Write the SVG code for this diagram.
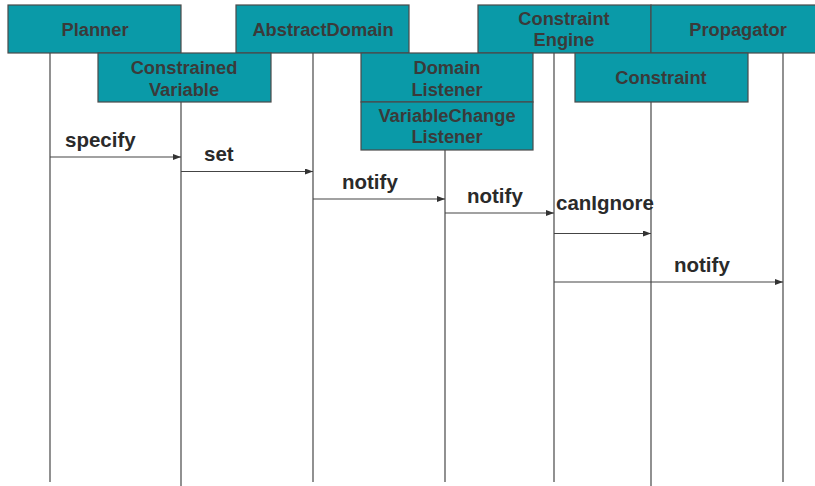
<svg xmlns="http://www.w3.org/2000/svg" width="815" height="486" viewBox="0 0 815 486">
<defs>
<style>
.box{fill:#0a9aa8;stroke:#4a4a4a;stroke-width:1.2}
.nl{font-family:"Liberation Sans",Arial,sans-serif;font-weight:bold;font-size:18.3px;fill:#3a3a3a;text-anchor:middle}
.ml{font-family:"Liberation Sans",Arial,sans-serif;font-weight:bold;font-size:20.5px;fill:#2a2a2a}
.life{stroke:#555;stroke-width:1.3;fill:none}
.msg{stroke:#444;stroke-width:1.1;fill:none;marker-end:url(#ah)}
</style>
<marker id="ah" viewBox="0 0 8 6" refX="8" refY="3" markerWidth="8" markerHeight="6" markerUnits="userSpaceOnUse" orient="auto">
<path d="M0,0 L8,3 L0,6 Z" fill="#333"/>
</marker>
</defs>
<rect width="815" height="486" fill="#fff"/>
<g id="lifelines">
<line class="life" x1="50" y1="53" x2="50" y2="482"/>
<line class="life" x1="181" y1="102" x2="181" y2="486"/>
<line class="life" x1="313" y1="53" x2="313" y2="482"/>
<line class="life" x1="445" y1="150" x2="445" y2="482"/>
<line class="life" x1="554" y1="53" x2="554" y2="482"/>
<line class="life" x1="651" y1="102" x2="651" y2="486"/>
<line class="life" x1="783" y1="53" x2="783" y2="482"/>
</g>
<g id="planner"><rect class="box" x="8" y="5" width="173" height="48"/><text class="nl" x="95" y="36">Planner</text></g>
<g id="abstractdomain"><rect class="box" x="236" y="5" width="173" height="48"/><text class="nl" x="323" y="36">AbstractDomain</text></g>
<g id="constraintengine"><rect class="box" x="478" y="5" width="173" height="48"/><text class="nl" x="564" y="25">Constraint</text><text class="nl" x="564" y="46">Engine</text></g>
<g id="propagator"><rect class="box" x="651" y="5" width="180" height="48"/><text class="nl" x="738" y="36">Propagator</text></g>
<g id="constrainedvariable"><rect class="box" x="98" y="53" width="173" height="49"/><text class="nl" x="184" y="74">Constrained</text><text class="nl" x="184" y="96">Variable</text></g>
<g id="domainlistener"><rect class="box" x="361" y="53" width="172" height="49"/><text class="nl" x="447" y="74">Domain</text><text class="nl" x="447" y="96">Listener</text></g>
<g id="variablechangelistener"><rect class="box" x="361" y="102" width="172" height="48"/><text class="nl" x="447" y="122">VariableChange</text><text class="nl" x="447" y="143">Listener</text></g>
<g id="constraint"><rect class="box" x="575" y="53" width="173" height="49"/><text class="nl" x="661" y="84">Constraint</text></g>
<g id="connectors">
<line class="msg" x1="50" y1="157" x2="181" y2="157"/>
<line class="msg" x1="181" y1="171.5" x2="313" y2="171.5"/>
<line class="msg" x1="313" y1="199" x2="445" y2="199"/>
<line class="msg" x1="445" y1="213" x2="554" y2="213"/>
<line class="msg" x1="554" y1="233.5" x2="651" y2="233.5"/>
<line class="msg" x1="554" y1="282" x2="783" y2="282"/>
<text class="ml" x="65" y="147">specify</text>
<text class="ml" x="204" y="161">set</text>
<text class="ml" x="342" y="189">notify</text>
<text class="ml" x="467" y="203">notify</text>
<text class="ml" x="556" y="210">canIgnore</text>
<text class="ml" x="674" y="272">notify</text>
</g>
</svg>
